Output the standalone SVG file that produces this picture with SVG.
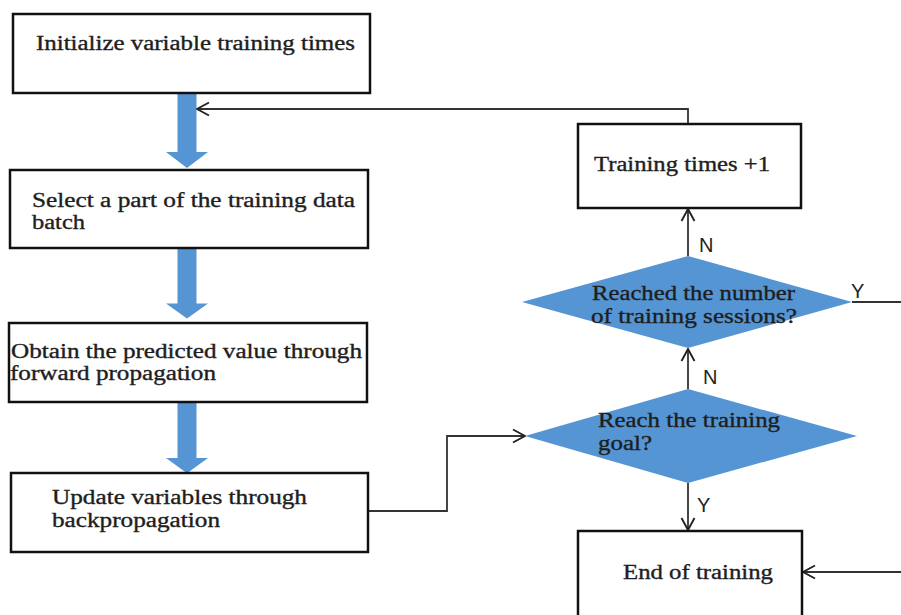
<svg xmlns="http://www.w3.org/2000/svg" width="901" height="615" viewBox="0 0 901 615">
  <defs>
    <style>
      .box { fill: #ffffff; stroke: #111111; stroke-width: 2.5; }
      .dia { fill: #5595d3; stroke: none; }
      .txt { font-family: "Liberation Serif", "Times New Roman", serif; font-size: 20px; fill: #1e1e1e; stroke: #1e1e1e; stroke-width: 0.35; }
      .lbl { font-family: "Liberation Sans", Arial, sans-serif; font-size: 20px; fill: #222222; }
      .line { fill: none; stroke: #333333; stroke-width: 1.8; }
      .flow { fill: #5595d3; }
    </style>
    <marker id="open" viewBox="0 0 14 16" refX="13" refY="8" markerWidth="14" markerHeight="16" markerUnits="userSpaceOnUse" orient="auto">
      <path d="M1,1.5 L13,8 L1,14.5" fill="none" stroke="#222222" stroke-width="1.9"/>
    </marker>
    <path id="blueArrow" d="M-9.5,0 L9.5,0 L9.5,59 L21,59 L0,75 L-21,59 L-9.5,59 Z"/>
  </defs>

  <!-- main flow: block arrows between the left column -->
  <g id="connectors">
    <use href="#blueArrow" class="flow" transform="translate(187,93)"/>
    <use href="#blueArrow" class="flow" transform="translate(187,248) scale(1,0.94)"/>
    <use href="#blueArrow" class="flow" transform="translate(187,402) scale(1,0.95)"/>

    <!-- loop back to the start of the loop -->
    <path class="line" d="M688,124 L688,109 L197,109" marker-end="url(#open)"/>
    <!-- backpropagation to goal check -->
    <path class="line" d="M368,511 L447,511 L447,436 L525,436" marker-end="url(#open)"/>
    <!-- goal check N -> sessions check -->
    <path class="line" d="M688,389 L688,349" marker-end="url(#open)"/>
    <!-- sessions check N -> increment -->
    <path class="line" d="M688,256 L688,209" marker-end="url(#open)"/>
    <!-- goal check Y -> end -->
    <path class="line" d="M688,483 L688,530" marker-end="url(#open)"/>
    <!-- sessions check Y -> out right -->
    <path class="line" d="M852,302 L901,302"/>
    <!-- return into end box -->
    <path class="line" d="M901,572 L803,572" marker-end="url(#open)"/>

    <text class="lbl" x="699" y="252">N</text>
    <text class="lbl" x="851" y="298">Y</text>
    <text class="lbl" x="703" y="384">N</text>
    <text class="lbl" x="697" y="512">Y</text>
  </g>

  <g id="init">
    <rect class="box" x="13" y="14" width="357" height="79"/>
    <text class="txt" x="36" y="50" textLength="319" lengthAdjust="spacingAndGlyphs">Initialize variable training times</text>
  </g>

  <g id="select">
    <rect class="box" x="10" y="170" width="358" height="78"/>
    <text class="txt" x="32" y="207" textLength="323" lengthAdjust="spacingAndGlyphs">Select a part of the training data</text>
    <text class="txt" x="32" y="229" textLength="53" lengthAdjust="spacingAndGlyphs">batch</text>
  </g>

  <g id="forward">
    <rect class="box" x="9" y="323" width="358" height="79"/>
    <text class="txt" x="11" y="358" textLength="351" lengthAdjust="spacingAndGlyphs">Obtain the predicted value through</text>
    <text class="txt" x="10" y="380" textLength="206" lengthAdjust="spacingAndGlyphs">forward propagation</text>
  </g>

  <g id="backward">
    <rect class="box" x="11" y="473" width="357" height="79"/>
    <text class="txt" x="52" y="504" textLength="255" lengthAdjust="spacingAndGlyphs">Update variables through</text>
    <text class="txt" x="52" y="527" textLength="168" lengthAdjust="spacingAndGlyphs">backpropagation</text>
  </g>

  <g id="increment">
    <rect class="box" x="578" y="124" width="223" height="84"/>
    <text class="txt" x="594" y="171" textLength="176" lengthAdjust="spacingAndGlyphs">Training times +1</text>
  </g>

  <g id="sessions-check">
    <polygon class="dia" points="688,256 852,302 688,348 522,302"/>
    <text class="txt" x="592" y="300" textLength="203" lengthAdjust="spacingAndGlyphs">Reached the number</text>
    <text class="txt" x="591" y="323" textLength="206" lengthAdjust="spacingAndGlyphs">of training sessions?</text>
  </g>

  <g id="goal-check">
    <polygon class="dia" points="688,389 857,436 688,483 525,436"/>
    <text class="txt" x="598" y="427" textLength="182" lengthAdjust="spacingAndGlyphs">Reach the training</text>
    <text class="txt" x="598" y="450" textLength="54" lengthAdjust="spacingAndGlyphs">goal?</text>
  </g>

  <g id="end">
    <rect class="box" x="578" y="531" width="224" height="90"/>
    <text class="txt" x="623" y="579" textLength="150" lengthAdjust="spacingAndGlyphs">End of training</text>
  </g>
</svg>
